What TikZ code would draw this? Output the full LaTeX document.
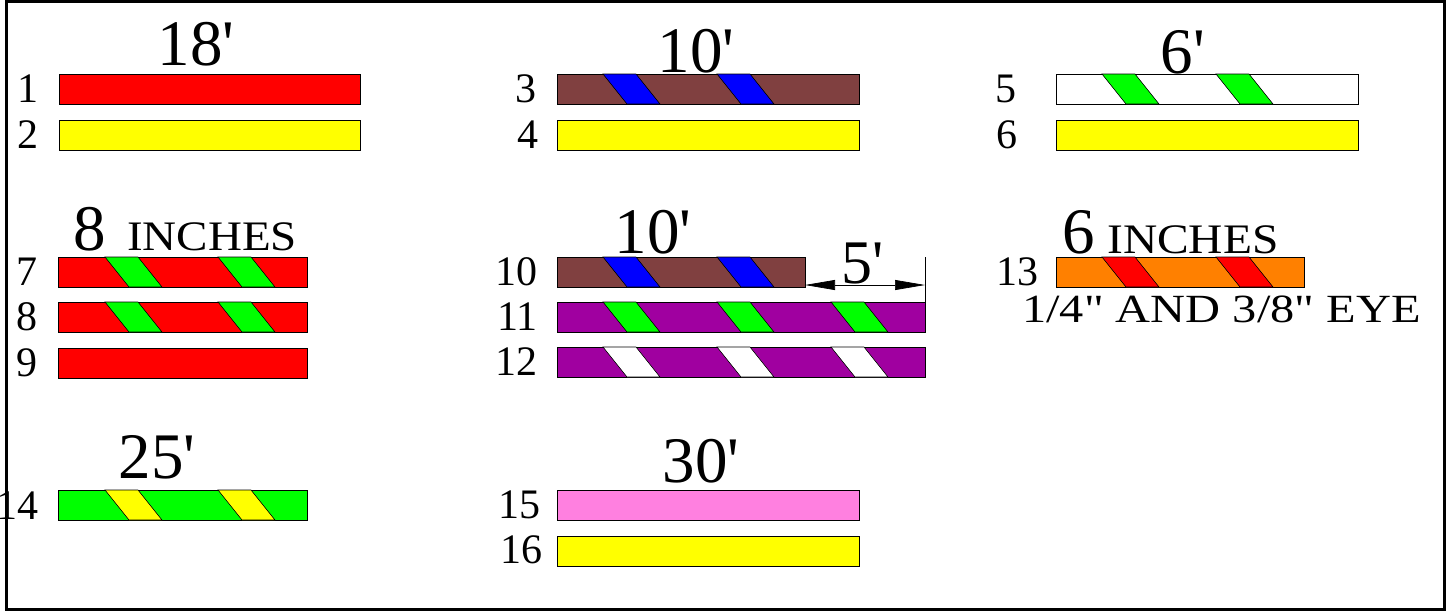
\documentclass[tikz,border=0pt]{standalone}
\usepackage{fontspec}
\setmainfont{Liberation Serif}
\usetikzlibrary{arrows.meta,calc}
\definecolor{cbrown}{RGB}{128,64,64}
\definecolor{cpurple}{RGB}{160,0,160}
\definecolor{corange}{RGB}{255,128,0}
\definecolor{cpink}{RGB}{255,128,224}
\definecolor{cgreen}{RGB}{0,255,0}
\definecolor{cyellow}{RGB}{255,255,0}
\newcommand{\twist}[3]{\filldraw[stripeline, fill=#3] ([xshift=#2pt]#1.north west) -- ++(33,0) -- ++(24,30) -- ++(-33,0) -- cycle;}
\begin{document}
\begin{tikzpicture}[x=1pt,y=-1pt,
  bar/.style={draw=black, line width=0.9pt, inner sep=0pt, outer sep=0pt, minimum height=30pt, anchor=north west},
  stripeline/.style={draw=black, line width=0.6pt, line join=miter},
  lbl/.style={inner sep=0pt, anchor=base east, font=\fontsize{42}{42}\selectfont},
  head/.style={inner sep=0pt, anchor=base, font=\fontsize{65}{65}\selectfont},
  small/.style={inner sep=0pt, anchor=base west, font=\fontsize{42}{42}\selectfont},
  dim/.style={line width=0.7pt, {Triangle[length=30pt,width=10pt]}-{Triangle[length=30pt,width=10pt]}}
]
\useasboundingbox (0,0) rectangle (1449,611);
\fill[white] (0,0) rectangle (1449,611);

% labels
\node[lbl] (l1) at (39,102) {1};
\node[lbl] (l2) at (39,148) {2};
\node[lbl] (l3) at (537,102) {3};
\node[lbl] (l4) at (539,148) {4};
\node[lbl] (l5) at (1017,102) {5};
\node[lbl] (l6) at (1018,148) {6};
\node[lbl] (l7) at (38,285) {7};
\node[lbl] (l8) at (38,330) {8};
\node[lbl] (l9) at (38,376) {9};
\node[lbl] (l10) at (538,285) {10};
\node[lbl] (l11) at (538,330) {11};
\node[lbl] (l12) at (538,375) {12};
\node[lbl] (l13) at (1039,285) {13};
\node[lbl] (l14) at (39,519) {14};
\node[lbl] (l15) at (541,518) {15};
\node[lbl] (l16) at (543,563) {16};

% headings
\node[head] (h1) at (196,65) {18\textquotesingle};
\node[head] (h2) at (696,72) {10\textquotesingle};
\node[head] (h3) at (1183,73) {6\textquotesingle};
\node[head, anchor=base west] (h4a) at (73,250) {8};
\node[small] (h4b) at (127,250) {\scalebox{1.12}[1]{INCHES}};
\node[head] (h5) at (653,253) {10\textquotesingle};
\node[head, anchor=base west] (h6a) at (1062,253) {6};
\node[small] (h6b) at (1107,253) {\scalebox{1.13}[1]{INCHES}};
\node[small, font=\fontsize{40}{40}\selectfont] (h7) at (1022,322) {\scalebox{1.21}[1]{1/4\textquotedbl{} AND 3/8\textquotedbl{} EYE}};
\node[head] (h8) at (157,478) {25\textquotesingle};
\node[head] (h9) at (701,482) {30\textquotesingle};
\node[head, font=\fontsize{62}{62}\selectfont] (h10) at (863,283) {5\textquotesingle};

% bars
\node[bar, fill=red, minimum width=301pt] (b1) at (59,74) {};
\node[bar, fill=cyellow, minimum width=301pt] (b2) at (59,120) {};
\node[bar, fill=cbrown, minimum width=302pt] (b3) at (557,74) {};
\twist{b3}{46}{blue}\twist{b3}{160}{blue}
\node[bar, fill=cyellow, minimum width=302pt] (b4) at (557,120) {};
\node[bar, fill=white, minimum width=302pt] (b5) at (1056,74) {};
\twist{b5}{46}{cgreen}\twist{b5}{160}{cgreen}
\node[bar, fill=cyellow, minimum width=302pt] (b6) at (1056,120) {};
\node[bar, fill=red, minimum width=249pt] (b7) at (58,257) {};
\twist{b7}{47}{cgreen}\twist{b7}{160}{cgreen}
\node[bar, fill=red, minimum width=249pt] (b8) at (58,302) {};
\twist{b8}{47}{cgreen}\twist{b8}{160}{cgreen}
\node[bar, fill=red, minimum width=249pt] (b9) at (58,348) {};
\node[bar, fill=cbrown, minimum width=248pt] (b10) at (557,257) {};
\twist{b10}{46}{blue}\twist{b10}{160}{blue}
\node[bar, fill=cpurple, minimum width=368pt] (b11) at (557,302) {};
\twist{b11}{46}{cgreen}\twist{b11}{160}{cgreen}\twist{b11}{274}{cgreen}
\node[bar, fill=cpurple, minimum width=368pt] (b12) at (557,347) {};
\twist{b12}{46}{white}\twist{b12}{160}{white}\twist{b12}{274}{white}
\node[bar, fill=corange, minimum width=248pt] (b13) at (1056,257) {};
\twist{b13}{46}{red}\twist{b13}{160}{red}
\node[bar, fill=cgreen, minimum width=249pt] (b14) at (58,490) {};
\twist{b14}{47}{cyellow}\twist{b14}{160}{cyellow}
\node[bar, fill=cpink, minimum width=302pt] (b15) at (557,490) {};
\node[bar, fill=cyellow, minimum width=302pt] (b16) at (557,536) {};

% dimension 5'
\coordinate (da) at ([yshift=2pt]b10.south east);
\coordinate (db) at (da -| b11.east);
\coordinate (dt) at ([yshift=45pt]b11.north east);
\draw[line width=0.7pt] (b11.north east) -- (dt);
\draw[dim] (da) -- (db);

% frame
\draw[line width=2.5pt] (6.5,1.5) rectangle (1444.5,609.5);
\end{tikzpicture}
\end{document}
